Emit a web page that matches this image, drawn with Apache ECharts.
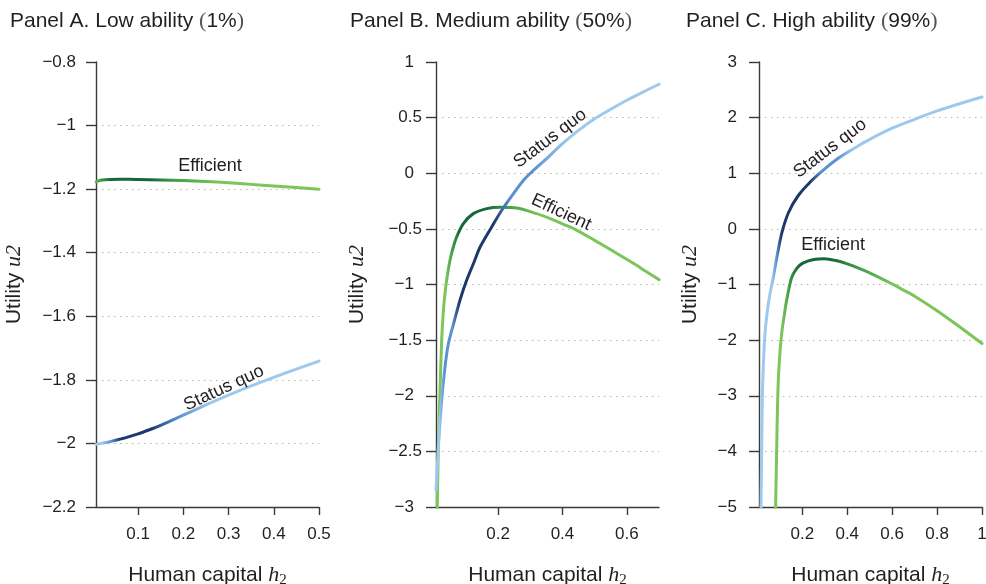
<!DOCTYPE html>
<html>
<head>
<meta charset="utf-8">
<script src="https://cdn.jsdelivr.net/npm/echarts@6/dist/echarts.min.js"></script>
<style>
  html, body { margin: 0; padding: 0; background: #fff; }
  #chart { width: 986px; height: 584px; }
</style>
</head>
<body>
<div id="chart"></div>
<script>
// ---- Panel A: low ability (1%) ----
const hA_eff = [0.007, 0.02, 0.04, 0.06, 0.08, 0.1, 0.15, 0.2, 0.25, 0.3, 0.35, 0.4, 0.45, 0.5];
const uA_eff = [-1.177, -1.1715, -1.1695, -1.169, -1.169, -1.1695, -1.171, -1.173, -1.176, -1.180, -1.185, -1.190, -1.195, -1.200];
const hA_sq = [0.007, 0.03, 0.05, 0.075, 0.1, 0.125, 0.15, 0.2, 0.25, 0.3, 0.35, 0.4, 0.45, 0.5];
const uA_sq = [-2.003, -1.997, -1.990, -1.981, -1.970, -1.957, -1.943, -1.911, -1.879, -1.848, -1.819, -1.792, -1.766, -1.741];

// ---- Panel B: medium ability (50%) ----
const hB_eff = [0.0095, 0.011, 0.014, 0.019, 0.0246, 0.0296, 0.035, 0.040, 0.0505, 0.06, 0.071, 0.092, 0.123, 0.165, 0.206, 0.258, 0.32, 0.362, 0.4, 0.445, 0.5, 0.55, 0.6215, 0.66, 0.7];
const uB_eff = [-3.3, -3.0, -2.49, -2.0, -1.5, -1.25, -1.08, -0.96, -0.78, -0.67, -0.573, -0.453, -0.363, -0.318, -0.305, -0.312, -0.363, -0.408, -0.455, -0.513, -0.603, -0.688, -0.812, -0.884, -0.956];
const hB_sq = [0.007, 0.011, 0.017, 0.0246, 0.035, 0.045, 0.0607, 0.0816, 0.1025, 0.125, 0.144, 0.18, 0.2115, 0.2477, 0.279, 0.3, 0.35, 0.4, 0.45, 0.5, 0.55, 0.6, 0.65, 0.7];
const uB_sq = [-2.85, -2.64, -2.34, -2.04, -1.74, -1.54, -1.36, -1.14, -0.96, -0.80, -0.663, -0.483, -0.333, -0.183, -0.063, 0.0, 0.13, 0.266, 0.385, 0.49, 0.575, 0.656, 0.73, 0.80];

// ---- Panel C: high ability (99%) ----
const hC_eff = [0.078, 0.081, 0.0857, 0.090, 0.096, 0.108, 0.123, 0.13, 0.152, 0.175, 0.2, 0.25, 0.3, 0.35, 0.4, 0.45, 0.5, 0.55, 0.6, 0.65, 0.7, 0.8, 0.9, 1.0];
const uC_eff = [-5.6, -5.0, -3.98, -3.08, -2.48, -1.88, -1.45, -1.28, -0.88, -0.71, -0.62, -0.55, -0.535, -0.57, -0.63, -0.705, -0.79, -0.89, -0.99, -1.10, -1.21, -1.47, -1.76, -2.06];
const hC_sq = [0.0145, 0.0158, 0.019, 0.0216, 0.026, 0.0337, 0.042, 0.0504, 0.06, 0.0727, 0.09, 0.108, 0.138, 0.182, 0.242, 0.3, 0.36, 0.435, 0.5, 0.6, 0.7, 0.8, 0.9, 1.0];
const uC_sq = [-5.6, -5.0, -3.98, -3.08, -2.48, -1.88, -1.55, -1.30, -1.08, -0.82, -0.43, -0.08, 0.29, 0.6, 0.87, 1.08, 1.27, 1.46, 1.61, 1.81, 1.97, 2.12, 2.25, 2.37];

// ---- axes ----
const panelTitles = ['Panel A. Low ability', 'Panel B. Medium ability', 'Panel C. High ability'];
const panelShares = ['1%', '50%', '99%'];
const xTicksA = [0.1, 0.2, 0.3, 0.4, 0.5];
const xTicksB = [0.2, 0.4, 0.6];
const xTicksC = [0.2, 0.4, 0.6, 0.8, 1];
const yMin = [-2.2, -3, -5];
const yMax = [-0.8, 1, 3];
const yStep = [0.2, 0.5, 1];
const xMin = 0.007;
const xMax = [0.5, 0.7, 1];
const curveNames = ['Efficient', 'Status quo'];

// ---- styling ----
const SANS = '"Liberation Sans", Arial, Helvetica, sans-serif';
const SERIF = '"Liberation Serif", "Times New Roman", serif';
const INK = '#231f20';
const AXIS = '#3a3a3a';
const BLUE = { light: '#9dc9ee', mid: '#5a92cf', dark: '#1b3a6b' };
const GREEN = { light: '#7cc55a', mid: '#3f9e47', dark: '#16683a' };

// colour bands along each curve (h2 position -> colour)
const shadeA_eff = [[0.007, GREEN.light], [0.022, GREEN.mid], [0.045, GREEN.dark], [0.13, GREEN.dark], [0.18, GREEN.mid], [0.28, GREEN.light]];
const shadeA_sq = [[0.007, BLUE.light], [0.025, BLUE.light], [0.045, BLUE.mid], [0.065, BLUE.dark], [0.13, BLUE.dark], [0.19, BLUE.mid], [0.26, BLUE.light]];
const shadeB_eff = [[0.0095, GREEN.light], [0.045, GREEN.light], [0.065, GREEN.mid], [0.085, GREEN.dark], [0.17, GREEN.dark], [0.23, GREEN.mid], [0.33, GREEN.light]];
const shadeB_sq = [[0.007, BLUE.light], [0.025, BLUE.light], [0.04, BLUE.mid], [0.065, BLUE.mid], [0.085, BLUE.dark], [0.19, BLUE.dark], [0.24, BLUE.mid], [0.31, BLUE.mid], [0.42, BLUE.light]];
const shadeC_eff = [[0.078, GREEN.light], [0.12, GREEN.light], [0.15, GREEN.mid], [0.19, GREEN.dark], [0.34, GREEN.dark], [0.45, GREEN.mid], [0.6, GREEN.light]];
const shadeC_sq = [[0.0145, BLUE.light], [0.075, BLUE.light], [0.095, BLUE.mid], [0.115, BLUE.dark], [0.24, BLUE.dark], [0.29, BLUE.mid], [0.36, BLUE.mid], [0.43, BLUE.light]];

// curve annotations: anchor in data space, rotation in degrees
const notesA = [{ at: [0.259, -1.127], rot: 0 }, { at: [0.29, -1.826], rot: 25 }];
const notesB = [{ at: [0.396, -0.351], rot: -25 }, { at: [0.362, 0.314], rot: 37 }];
const notesC = [{ at: [0.337, -0.295], rot: 0 }, { at: [0.3235, 1.449], rot: 37 }];

const grids = [
  { left: 96, top: 62, width: 223, height: 445, outerBoundsMode: 'none' },
  { left: 436, top: 62, width: 223, height: 445, outerBoundsMode: 'none' },
  { left: 759, top: 62, width: 223, height: 445, outerBoundsMode: 'none' }
];
const titleLeft = [10, 350, 686];
const yNameGap = [70, 67, 57];
const yLabelMargin = [20, 14, 22];

function zip(xs, ys) { return xs.map((x, i) => [x, ys[i]]); }

function shade(hs, stops) {
  const lo = Math.min.apply(null, hs), hi = Math.max.apply(null, hs);
  return new echarts.graphic.LinearGradient(0, 0, 1, 0, stops.map(function (s) {
    return { offset: Math.max(0, Math.min(1, (s[0] - lo) / (hi - lo))), color: s[1] };
  }));
}

function numText(v) {
  const s = String(Math.round(v * 100) / 100);
  return s.replace('-', '\u2212');
}

const labelBase = { fontFamily: SANS, fontSize: 17, color: INK };

const xName = '{t|Human capital }{h|h}{s|2}';
const xNameRich = {
  t: { fontFamily: SANS, fontSize: 21, color: INK, lineHeight: 26 },
  h: { fontFamily: SERIF, fontStyle: 'italic', fontSize: 22, color: INK, lineHeight: 26 },
  s: { fontFamily: SERIF, fontSize: 15, color: INK, lineHeight: 14, verticalAlign: 'bottom' }
};
const yName = '{t|Utility }{u|u2}';
const yNameRich = {
  t: { fontFamily: SANS, fontSize: 21, color: INK, lineHeight: 24 },
  u: { fontFamily: SERIF, fontStyle: 'italic', fontSize: 22, color: INK, lineHeight: 24 }
};

const xTicks = [xTicksA, xTicksB, xTicksC];

const xAxes = [0, 1, 2].map(function (i) {
  return {
    type: 'value', gridIndex: i, min: xMin, max: xMax[i],
    axisLine: { show: true, onZero: false, lineStyle: { color: AXIS, width: 1.4 } },
    axisTick: { show: true, customValues: xTicks[i], length: 8, lineStyle: { color: AXIS, width: 1.4 } },
    axisLabel: Object.assign({ customValues: xTicks[i], margin: 19, formatter: function (v) { return numText(v); } }, labelBase),
    splitLine: { show: false },
    name: xName, nameLocation: 'middle', nameGap: 55,
    nameTextStyle: { rich: xNameRich }
  };
});

const yAxes = [0, 1, 2].map(function (i) {
  const rich = { n: Object.assign({}, labelBase), w: Object.assign({ padding: [0, 8, 0, 0] }, labelBase) };
  return {
    type: 'value', gridIndex: i, min: yMin[i], max: yMax[i], interval: yStep[i],
    axisLine: { show: true, onZero: false, lineStyle: { color: AXIS, width: 1.4 } },
    axisTick: { show: true, length: 10, lineStyle: { color: AXIS, width: 1.4 } },
    axisLabel: {
      margin: yLabelMargin[i],
      formatter: function (v) {
        const s = numText(v);
        // the middle panel sets whole numbers in from the decimals
        if (i === 1 && s.indexOf('.') < 0) return '{w|' + s + '}';
        return '{n|' + s + '}';
      },
      rich: rich
    },
    splitLine: {
      show: true, showMinLine: false, showMaxLine: false,
      lineStyle: { color: '#b5b5b5', width: 1.2, type: [1.5, 4.5] }
    },
    name: yName, nameLocation: 'middle', nameGap: yNameGap[i],
    nameTextStyle: { rich: yNameRich }
  };
});

function curve(i, hs, us, stops, note, text, z) {
  return {
    type: 'line', xAxisIndex: i, yAxisIndex: i,
    data: zip(hs, us),
    showSymbol: false, symbol: 'none',
    smooth: 0.3,
    clip: true, z: z,
    lineStyle: { width: 3, color: shade(hs, stops), cap: 'round', join: 'round' },
    emphasis: { disabled: true },
    markPoint: {
      silent: true, symbol: 'circle', symbolSize: 0,
      label: { show: true, position: 'inside', fontFamily: SANS, fontSize: 18, color: INK },
      data: [{ coord: note.at, label: { formatter: text, rotate: note.rot } }]
    }
  };
}

const series = [
  curve(0, hA_eff, uA_eff, shadeA_eff, notesA[0], curveNames[0], 2),
  curve(0, hA_sq, uA_sq, shadeA_sq, notesA[1], curveNames[1], 3),
  curve(1, hB_eff, uB_eff, shadeB_eff, notesB[0], curveNames[0], 2),
  curve(1, hB_sq, uB_sq, shadeB_sq, notesB[1], curveNames[1], 3),
  curve(2, hC_eff, uC_eff, shadeC_eff, notesC[0], curveNames[0], 2),
  curve(2, hC_sq, uC_sq, shadeC_sq, notesC[1], curveNames[1], 3)
];

const titles = [0, 1, 2].map(function (i) {
  return {
    text: '{a|' + panelTitles[i] + ' }{p|(}{a|' + panelShares[i] + '}{p|)}',
    left: titleLeft[i], top: 10, padding: 0,
    textStyle: {
      fontWeight: 'normal',
      rich: {
        a: { fontFamily: SANS, fontSize: 21, fontWeight: 'normal', color: INK, lineHeight: 22 },
        p: { fontFamily: SERIF, fontSize: 22, fontWeight: 'normal', color: '#555', lineHeight: 22 }
      }
    }
  };
});

const chart = echarts.init(document.getElementById('chart'), null, { renderer: 'canvas' });
chart.setOption({
  animation: false,
  backgroundColor: '#fff',
  title: titles,
  grid: grids,
  xAxis: xAxes,
  yAxis: yAxes,
  series: series
});
</script>
</body>
</html>
